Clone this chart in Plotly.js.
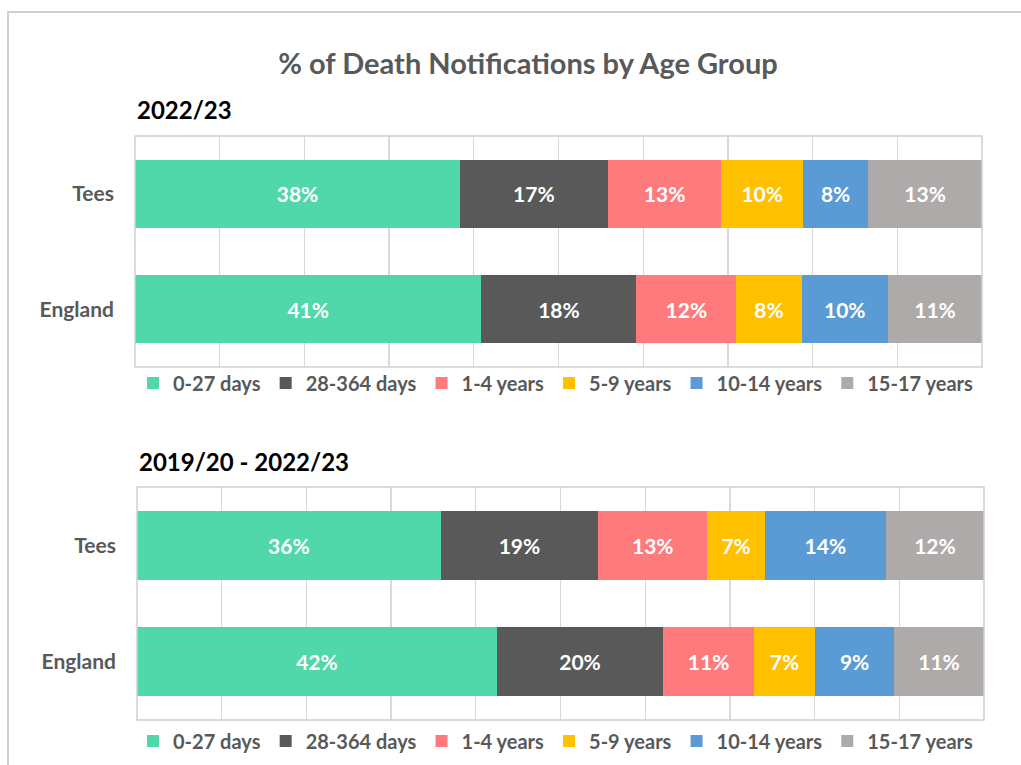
<!DOCTYPE html>
<html>
<head>
<meta charset="utf-8">
<script src="https://cdn.plot.ly/plotly-3.0.1.min.js"></script>
<style>
  html, body { margin: 0; padding: 0; background: #ffffff; }
  #chart { width: 1021px; height: 765px; }
</style>
</head>
<body>
<div id="chart"></div>
<script>
// ---- data ----
const areas = ["Tees", "England"];
const ageGroups = ["0-27 days", "28-364 days", "1-4 years", "5-9 years", "10-14 years", "15-17 years"];
const colors = ["#50D8AB", "#595959", "#FF7A7C", "#FFC000", "#5B9BD5", "#AEAAAA"];

// percent values per age group, [Tees, England]
const period1Label = "2022/23";
const p1_0_27 = [38.3, 40.9];
const p1_28_364 = [17.4, 18.3];
const p1_1_4 = [13.4, 11.8];
const p1_5_9 = [9.6, 7.7];
const p1_10_14 = [7.7, 10.2];
const p1_15_17 = [13.4, 11.1];

const period2Label = "2019/20 - 2022/23";
const p2_0_27 = [35.9, 42.4];
const p2_28_364 = [18.6, 19.6];
const p2_1_4 = [12.9, 10.7];
const p2_5_9 = [6.8, 7.2];
const p2_10_14 = [14.3, 9.3];
const p2_15_17 = [11.6, 10.6];

const period1 = [p1_0_27, p1_28_364, p1_1_4, p1_5_9, p1_10_14, p1_15_17];
const period2 = [p2_0_27, p2_28_364, p2_1_4, p2_5_9, p2_10_14, p2_15_17];

const FONT = "Lato, 'Open Sans', sans-serif";
const W = 1021, H = 765;

function makeTraces(series, xa, ya, legendId) {
  return series.map((vals, i) => ({
    type: "bar",
    orientation: "h",
    name: ageGroups[i],
    x: vals,
    y: areas,
    xaxis: xa,
    yaxis: ya,
    legend: legendId,
    marker: { color: colors[i], line: { width: 0 } },
    text: vals.map(v => Math.round(v) + "%"),
    textposition: "inside",
    insidetextanchor: "middle",
    textangle: 0,
    constraintext: "none",
    textfont: { family: FONT, size: 21, color: "#ffffff", weight: "bold" },
    hoverinfo: "name+x"
  }));
}

const traces = makeTraces(period1, "x", "y", "legend").concat(makeTraces(period2, "x2", "y2", "legend2"));

// plot areas in pixels -> paper fractions
const top1 = 136, bot1 = 367, left1 = 135, right1 = 982;
const top2 = 487, bot2 = 720, left2 = 137, right2 = 984;

const gridColor = "#D9D9D9";
const xaxisBase = {
  range: [0, 100], dtick: 10, tick0: 0, showgrid: true, gridcolor: gridColor, gridwidth: 1.3,
  showticklabels: false, zeroline: false, showline: false, ticks: "", fixedrange: true
};
const yaxisBase = {
  type: "category", autorange: "reversed", showgrid: false, zeroline: false, showline: false,
  ticks: "", ticklabelstandoff: 20, automargin: false,
  tickfont: { family: FONT, size: 21, color: "#595959", weight: "bold" }, fixedrange: true
};

const legendFont = { family: FONT, size: 20, color: "#595959", weight: "bold" };

const layout = {
  width: W, height: H,
  margin: { l: 0, r: 0, t: 0, b: 0 },
  paper_bgcolor: "#ffffff", plot_bgcolor: "#ffffff",
  barmode: "stack", barnorm: "percent", bargap: 0.41,
  font: { family: FONT, color: "#595959" },
  title: {
    text: "% of Death Notifications by Age Group",
    x: 528 / W, xanchor: "center", xref: "paper",
    y: 1 - 64 / H, yanchor: "middle", yref: "paper",
    font: { family: FONT, size: 29, color: "#595959", weight: "bold" }
  },
  xaxis: Object.assign({}, xaxisBase, { domain: [left1 / W, right1 / W], anchor: "y" }),
  yaxis: Object.assign({}, yaxisBase, { domain: [1 - bot1 / H, 1 - top1 / H], anchor: "x" }),
  xaxis2: Object.assign({}, xaxisBase, { domain: [left2 / W, right2 / W], anchor: "y2" }),
  yaxis2: Object.assign({}, yaxisBase, { domain: [1 - bot2 / H, 1 - top2 / H], anchor: "x2" }),
  legend: {
    orientation: "h", x: 133 / W, xanchor: "left", y: 1 - 383 / H, yanchor: "middle",
    traceorder: "normal", font: legendFont,
    bgcolor: "rgba(0,0,0,0)", itemclick: false, itemdoubleclick: false
  },
  legend2: {
    orientation: "h", x: 133 / W, xanchor: "left", y: 1 - 741 / H, yanchor: "middle",
    traceorder: "normal", font: legendFont,
    bgcolor: "rgba(0,0,0,0)", itemclick: false, itemdoubleclick: false
  },
  annotations: [
    { text: period1Label, xref: "paper", yref: "paper", x: 135 / W, y: 1 - 110 / H,
      xanchor: "left", yanchor: "middle", showarrow: false,
      font: { family: FONT, size: 24, color: "#000000", weight: "bold" } },
    { text: period2Label, xref: "paper", yref: "paper", x: 137 / W, y: 1 - 461 / H,
      xanchor: "left", yanchor: "middle", showarrow: false,
      font: { family: FONT, size: 24, color: "#000000", weight: "bold" } }
  ],
  shapes: [
    { type: "rect", xref: "x domain", yref: "y domain", x0: 0, x1: 1, y0: 0, y1: 1,
      line: { color: "#D0D0D0", width: 1.5 }, layer: "above" },
    { type: "rect", xref: "x2 domain", yref: "y2 domain", x0: 0, x1: 1, y0: 0, y1: 1,
      line: { color: "#D0D0D0", width: 1.5 }, layer: "above" },
    { type: "rect", xref: "paper", yref: "paper", x0: 8 / W, x1: 1.2, y0: -0.2, y1: 1 - 12 / H,
      line: { color: "#D0D0D0", width: 2 }, layer: "below" }
  ],
  showlegend: true
};

Plotly.newPlot("chart", traces, layout, { displayModeBar: false, staticPlot: true });
</script>
</body>
</html>
